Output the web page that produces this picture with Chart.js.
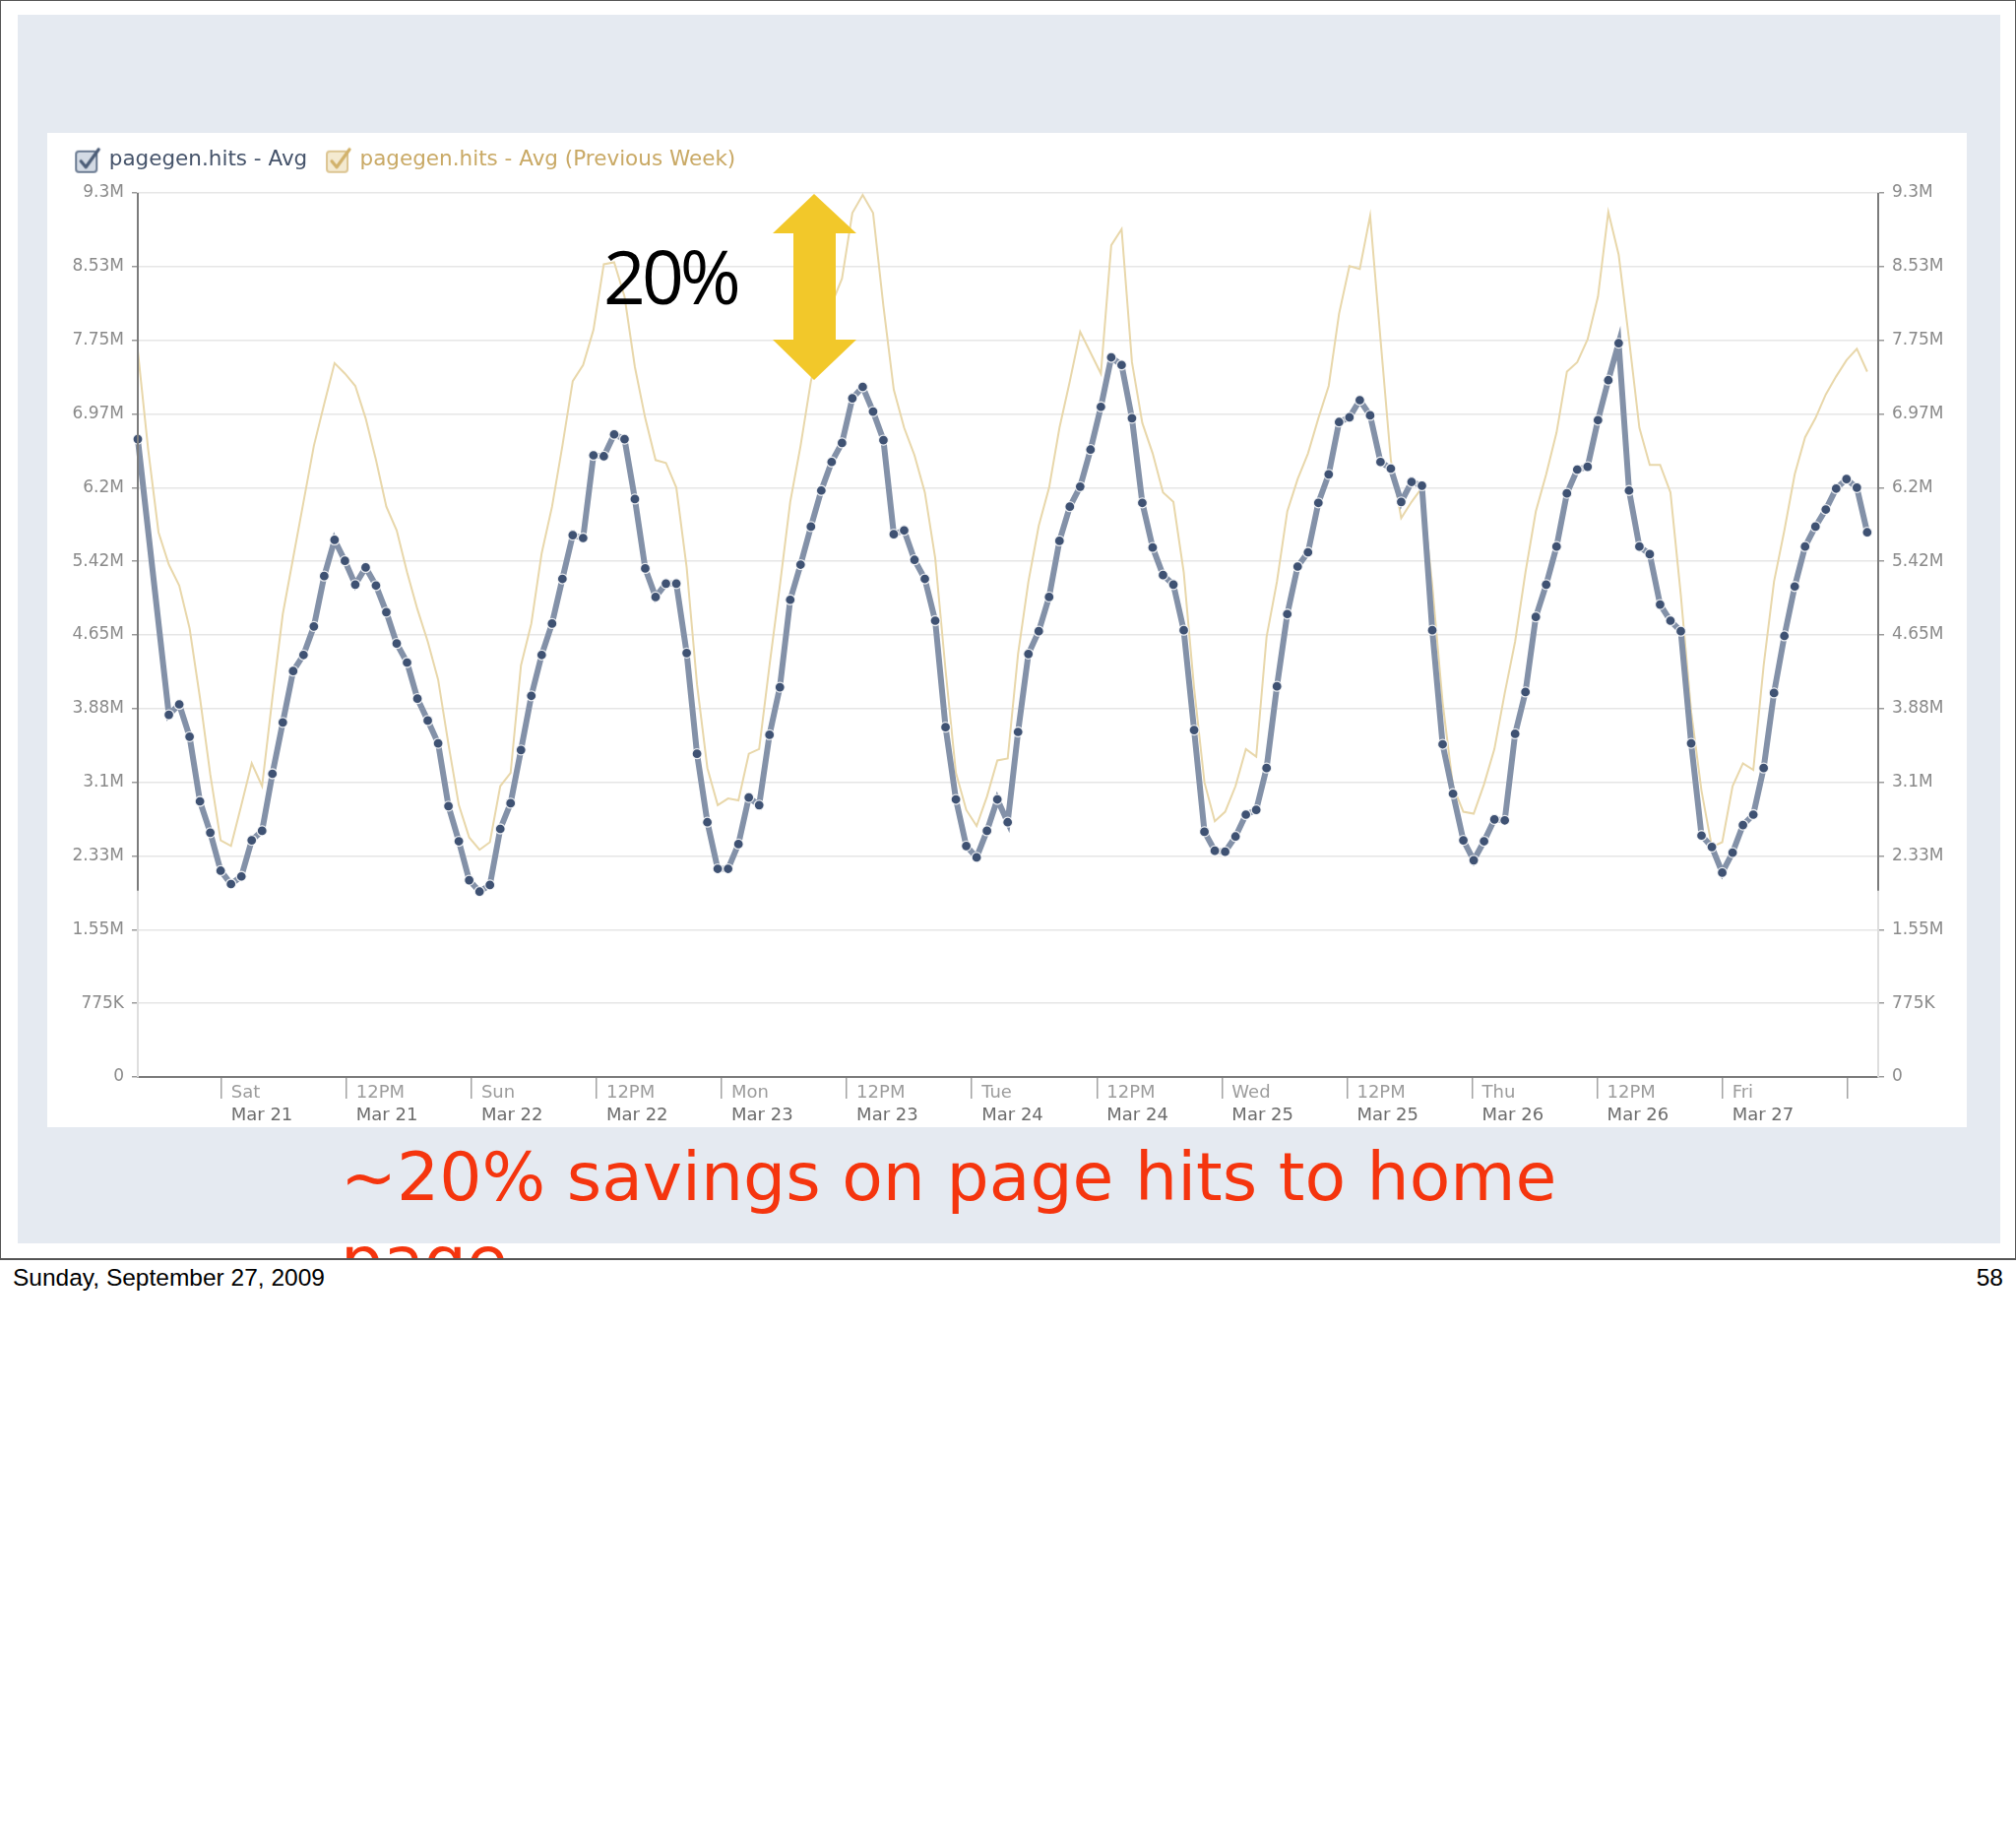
<!DOCTYPE html>
<html>
<head>
<meta charset="utf-8">
<script src="https://cdn.jsdelivr.net/npm/chart.js@4.4.1/dist/chart.umd.min.js"></script>
<style>
  html, body { margin: 0; padding: 0; background: #ffffff; }
  body { width: 2048px; height: 1865px; position: relative; overflow: hidden; }
  #slide { position: absolute; left: 0; top: 0; width: 2048px; height: 1280px; overflow: hidden; background: #ffffff; }
  #bg { position: absolute; left: 18px; top: 15px; width: 2014px; height: 1248px; background: #e5eaf1; }
  #panel { position: absolute; left: 48px; top: 135px; width: 1950px; height: 1010px; background: #ffffff; }
  #c { position: absolute; left: 48px; top: 131px; }
  #arrow { position: absolute; left: 0; top: 0; }
  #pct { position: absolute; left: 613px; top: 243px; font-family: "Open Sans", sans-serif; font-size: 75px; line-height: 74px; letter-spacing: -4px; color: #000; white-space: nowrap; }
  #msg { position: absolute; left: 346px; top: 1153px; font-family: "DejaVu Sans", sans-serif; font-size: 68px; line-height: 85px; color: #f5350e; white-space: nowrap; }
  #frame { position: absolute; left: 0; top: 0; width: 2046px; height: 1277px; border: 1px solid #555; border-bottom: 2px solid #555; pointer-events: none; }
  #foot { position: absolute; left: 13px; top: 1285px; font-family: "Liberation Sans", Arial, sans-serif; font-size: 24.5px; line-height: 25px; color: #000; }
  #page { position: absolute; right: 13px; top: 1285px; font-family: "Liberation Sans", Arial, sans-serif; font-size: 24.5px; line-height: 25px; color: #000; }
</style>
</head>
<body>
<div id="slide">
  <div id="bg"></div>
  <div id="panel"></div>
  <canvas id="c" width="1950" height="1014"></canvas>
  <svg id="arrow" width="2048" height="1280">
    <polygon points="827,197 870,237 849,237 849,345 870,345 827,386 785,345 806,345 806,237 785,237" fill="#f2c82a"/>
  </svg>
  <div id="pct">20%</div>
  <div id="msg">~20% savings on page hits to home<br>page</div>
</div>
<div id="frame"></div>
<div id="foot">Sunday, September 27, 2009</div>
<div id="page">58</div>

<script>
// ---- data (values in millions of hits, one sample per hour starting Fri Mar 20, 16:00) ----
const seriesNames = ['pagegen.hits - Avg', 'pagegen.hits - Avg (Previous Week)'];

const currentWeek = [
  6.71, null, null, 3.81, 3.92, 3.58, 2.90, 2.57,
  2.17, 2.03, 2.11, 2.49, 2.59, 3.19, 3.73, 4.27, 4.44, 4.74, 5.27, 5.65,
  5.43, 5.18, 5.36, 5.17, 4.89, 4.56, 4.36, 3.98, 3.75, 3.51, 2.85, 2.48,
  2.07, 1.95, 2.02, 2.61, 2.88, 3.44, 4.01, 4.44, 4.77, 5.24, 5.70, 5.67,
  6.54, 6.53, 6.76, 6.71, 6.08, 5.35, 5.05, 5.19, 5.19, 4.46, 3.40, 2.68,
  2.19, 2.19, 2.45, 2.94, 2.86, 3.60, 4.10, 5.02, 5.39, 5.79, 6.17, 6.47,
  6.67, 7.14, 7.26, 7.00, 6.70, 5.71, 5.75, 5.44, 5.24, 4.80, 3.68, 2.92,
  2.43, 2.31, 2.59, 2.92, 2.68, 3.63, 4.45, 4.69, 5.05, 5.64, 6.00, 6.21,
  6.60, 7.05, 7.57, 7.49, 6.93, 6.04, 5.57, 5.28, 5.18, 4.70, 3.65, 2.58,
  2.38, 2.37, 2.53, 2.76, 2.81, 3.25, 4.11, 4.87, 5.37, 5.52, 6.04, 6.34,
  6.89, 6.94, 7.12, 6.96, 6.47, 6.40, 6.05, 6.26, 6.22, 4.70, 3.50, 2.98,
  2.49, 2.28, 2.48, 2.71, 2.70, 3.61, 4.05, 4.84, 5.18, 5.58, 6.14, 6.39,
  6.42, 6.91, 7.33, 7.72, 6.17, 5.58, 5.50, 4.97, 4.80, 4.69, 3.51, 2.54,
  2.42, 2.15, 2.36, 2.65, 2.76, 3.25, 4.04, 4.64, 5.16, 5.58, 5.79, 5.97,
  6.19, 6.29, 6.20, 5.73
];

const previousWeek = [
  7.64, 6.60, 5.73, 5.39, 5.17, 4.72, 3.99, 3.18,
  2.49, 2.43, 2.86, 3.30, 3.06, 3.99, 4.87, 5.46, 6.05, 6.64, 7.08, 7.51,
  7.40, 7.27, 6.93, 6.49, 6.00, 5.75, 5.31, 4.92, 4.58, 4.18, 3.50, 2.86,
  2.52, 2.39, 2.47, 3.06, 3.20, 4.33, 4.77, 5.51, 6.00, 6.64, 7.32, 7.49,
  7.86, 8.55, 8.57, 8.21, 7.47, 6.93, 6.49, 6.46, 6.20, 5.36, 4.13, 3.25,
  2.86, 2.93, 2.91, 3.40, 3.45, 4.33, 5.17, 6.05, 6.64, 7.32, 7.76, 8.13,
  8.40, 9.09, 9.28, 9.09, 8.11, 7.23, 6.83, 6.54, 6.15, 5.46, 4.28, 3.20,
  2.81, 2.64, 2.95, 3.33, 3.35, 4.45, 5.21, 5.80, 6.20, 6.83, 7.32, 7.84,
  7.62, 7.40, 8.75, 8.92, 7.52, 6.88, 6.56, 6.15, 6.05, 5.31, 4.09, 3.10,
  2.69, 2.79, 3.06, 3.45, 3.37, 4.63, 5.21, 5.95, 6.29, 6.56, 6.93, 7.27,
  8.03, 8.53, 8.50, 9.06, 7.76, 6.49, 5.88, 6.05, 6.20, 5.17, 3.94, 3.06,
  2.79, 2.77, 3.08, 3.45, 4.04, 4.58, 5.31, 5.95, 6.34, 6.78, 7.42, 7.52,
  7.76, 8.21, 9.10, 8.65, 7.76, 6.83, 6.44, 6.44, 6.15, 5.07, 3.84, 3.01,
  2.42, 2.47, 3.06, 3.30, 3.23, 4.33, 5.21, 5.75, 6.34, 6.73, 6.93, 7.18,
  7.37, 7.54, 7.66, 7.42
];

// time base: hours relative to Sat Mar 21 00:00
const firstSampleHour = -8;
const sampleStepHours = 0.9934;

// x-axis ticks (hours since Sat Mar 21 00:00) and their two label lines
const xTickHours = [0, 12, 24, 36, 48, 60, 72, 84, 96, 108, 120, 132, 144, 156];
const xTickTop = ['Sat', '12PM', 'Sun', '12PM', 'Mon', '12PM', 'Tue', '12PM', 'Wed', '12PM', 'Thu', '12PM', 'Fri', ''];
const xTickBottom = ['Mar 21', 'Mar 21', 'Mar 22', 'Mar 22', 'Mar 23', 'Mar 23', 'Mar 24', 'Mar 24', 'Mar 25', 'Mar 25', 'Mar 26', 'Mar 26', 'Mar 27', ''];

// y-axis ticks (millions)
const yTickValues = [0, 0.775, 1.55, 2.325, 3.1, 3.875, 4.65, 5.425, 6.2, 6.975, 7.75, 8.525, 9.3];
const yTickLabels = ['0', '775K', '1.55M', '2.33M', '3.1M', '3.88M', '4.65M', '5.42M', '6.2M', '6.97M', '7.75M', '8.53M', '9.3M'];
const xRange = [-8.0, 158.95];
const axisDarkDownTo = 1.96;

// ---- build ----
function toPoints(arr) {
  return arr.map((v, i) => ({ x: firstSampleHour + i * sampleStepHours, y: v }));
}

function makeCheckIcon(fill, stroke, check) {
  const c = document.createElement('canvas');
  c.width = 30; c.height = 30;
  const g = c.getContext('2d');
  g.fillStyle = fill; g.strokeStyle = stroke; g.lineWidth = 2;
  const x = 3, y = 6, w = 21, h = 21, r = 3;
  g.beginPath();
  g.moveTo(x + r, y); g.lineTo(x + w - r, y); g.quadraticCurveTo(x + w, y, x + w, y + r);
  g.lineTo(x + w, y + h - r); g.quadraticCurveTo(x + w, y + h, x + w - r, y + h);
  g.lineTo(x + r, y + h); g.quadraticCurveTo(x, y + h, x, y + h - r);
  g.lineTo(x, y + r); g.quadraticCurveTo(x, y, x + r, y);
  g.closePath(); g.fill(); g.stroke();
  g.strokeStyle = check; g.lineWidth = 3.2; g.lineCap = 'round'; g.lineJoin = 'round';
  g.beginPath(); g.moveTo(8, 16); g.lineTo(13, 22); g.lineTo(26, 4); g.stroke();
  return c;
}
const legendIcons = [makeCheckIcon('#d3dae4', '#6b7b92', '#4d5e78'), makeCheckIcon('#f4ead0', '#dcc592', '#d2b26b')];
const legendColors = ['#45536a', '#c9a965'];

Chart.defaults.font.family = '"DejaVu Sans", sans-serif';

const axisSegmentPlugin = {
  id: 'axisSegment',
  afterDraw(chart) {
    const { ctx, chartArea } = chart;
    const y = chart.scales.y;
    const yEnd = y.getPixelForValue(axisDarkDownTo);
    ctx.save();
    ctx.strokeStyle = '#7c7c7c';
    ctx.lineWidth = 2;
    ctx.beginPath();
    ctx.moveTo(chartArea.left, chartArea.top); ctx.lineTo(chartArea.left, yEnd);
    ctx.moveTo(chartArea.right, chartArea.top); ctx.lineTo(chartArea.right, yEnd);
    ctx.stroke();
    ctx.restore();
  }
};

const legendHeightPlugin = {
  id: 'legendHeight',
  beforeInit(chart) {
    const legend = chart.legend;
    if (legend) {
      const orig = legend.fit;
      legend.fit = function () { orig.call(this); this.height = 65; };
    }
  }
};

const yTicksFn = (scale) => { scale.ticks = yTickValues.map(v => ({ value: v })); };
const xTicksFn = (scale) => { scale.ticks = xTickHours.map(v => ({ value: v })); };

new Chart(document.getElementById('c'), {
  type: 'line',
  data: {
    datasets: [
      {
        label: seriesNames[0],
        data: toPoints(currentWeek),
        borderColor: '#8391a8',
        borderWidth: 6,
        pointRadius: 5,
        pointBackgroundColor: '#3f5273',
        pointBorderColor: 'rgba(255,255,255,0.85)',
        pointBorderWidth: 1.3,
        tension: 0,
        spanGaps: true,
        clip: false
      },
      {
        label: seriesNames[1],
        data: toPoints(previousWeek),
        borderColor: '#e8d7aa',
        borderWidth: 2,
        pointRadius: 0,
        tension: 0,
        clip: false
      }
    ]
  },
  options: {
    responsive: false,
    animation: false,
    events: [],
    layout: { padding: { left: 9.5, right: 9.5, top: 0, bottom: 0 } },
    plugins: {
      tooltip: { enabled: false },
      legend: {
        position: 'top',
        align: 'start',
        labels: {
          usePointStyle: true,
          boxWidth: 22,
          boxHeight: 22,
          padding: 21,
          font: { size: 21.5 },
          generateLabels(chart) {
            return chart.data.datasets.map((ds, i) => ({
              text: ds.label,
              fontColor: legendColors[i],
              pointStyle: legendIcons[i],
              fillStyle: 'transparent',
              strokeStyle: 'transparent',
              lineWidth: 0,
              hidden: false,
              datasetIndex: i
            }));
          }
        }
      }
    },
    scales: {
      x: {
        type: 'linear',
        position: 'bottom',
        min: xRange[0],
        max: xRange[1],
        afterBuildTicks: xTicksFn,
        afterFit(scale) { scale.height = 27; },
        border: { display: true, color: '#7a7a7a', width: 2 },
        grid: { display: true, drawOnChartArea: false, drawTicks: true, tickLength: 22, tickColor: '#a3a3a3', lineWidth: 1.5 },
        ticks: {
          autoSkip: false, maxRotation: 0, align: 'start', labelOffset: 10, padding: -16,
          color: '#9c9c9c', font: { size: 18 },
          callback: (v, i) => xTickTop[i]
        }
      },
      x2: {
        type: 'linear',
        position: 'bottom',
        min: xRange[0],
        max: xRange[1],
        afterBuildTicks: xTicksFn,
        afterFit(scale) { scale.height = 24; },
        border: { display: false },
        grid: { display: false },
        ticks: {
          autoSkip: false, maxRotation: 0, align: 'start', labelOffset: 10, padding: -6,
          color: '#6c6c6c', font: { size: 18 },
          callback: (v, i) => xTickBottom[i]
        }
      },
      y: {
        type: 'linear',
        position: 'left',
        min: 0,
        max: 9.3,
        afterBuildTicks: yTicksFn,
        afterFit(scale) { scale.width = 82.5; },
        border: { display: true, color: '#dedede', width: 2 },
        grid: { color: '#e6e6e6', lineWidth: 1.5, drawTicks: true, tickLength: 6, tickColor: '#9a9a9a' },
        ticks: { padding: 8, color: '#8a8a8a', font: { size: 17 }, callback: (v, i) => yTickLabels[i] }
      },
      y2: {
        type: 'linear',
        position: 'right',
        min: 0,
        max: 9.3,
        afterBuildTicks: yTicksFn,
        afterFit(scale) { scale.width = 80.5; },
        border: { display: true, color: '#dedede', width: 2 },
        grid: { drawOnChartArea: false, drawTicks: true, tickLength: 6, tickColor: '#9a9a9a', lineWidth: 1.5 },
        ticks: { padding: 8, color: '#8a8a8a', font: { size: 17 }, callback: (v, i) => yTickLabels[i] }
      }
    }
  },
  plugins: [legendHeightPlugin, axisSegmentPlugin]
});
</script>
</body>
</html>
